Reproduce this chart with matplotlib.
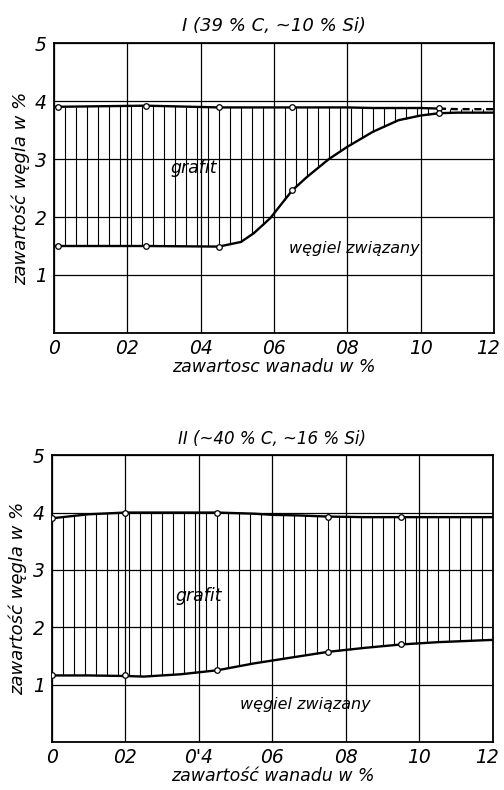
import numpy as np
import matplotlib
matplotlib.use('Agg')
import matplotlib.pyplot as plt
from matplotlib.transforms import ScaledTranslation

plt.rcParams['font.family'] = ['DejaVu Sans']
plt.rcParams['font.style'] = 'italic'

# Chart I: measured points and traced curves
x_pts_1 = [0.01, 0.25, 0.45, 0.65, 1.05]
graf_pts_1 = [3.90, 3.92, 3.89, 3.89, 3.88]
zw_pts_1 = [1.50, 1.50, 1.49, 2.46, 3.79]

curve_x_1 = [0.0, 0.25, 0.45, 0.51, 0.545, 0.59, 0.625, 0.65, 0.69, 0.75, 0.80, 0.87, 0.94, 1.0, 1.05, 1.1, 1.2]
upper_1 = [3.90, 3.92, 3.89, 3.89, 3.89, 3.89, 3.89, 3.89, 3.89, 3.89, 3.89, 3.88, 3.88, 3.88, 3.87, 3.86, 3.86]
lower_1 = [1.50, 1.50, 1.49, 1.57, 1.72, 1.98, 2.26, 2.46, 2.69, 3.00, 3.21, 3.47, 3.67, 3.75, 3.79, 3.80, 3.80]

# Chart II
x_pts_2 = [0.0, 0.2, 0.45, 0.75, 0.95]
graf_pts_2 = [3.90, 4.00, 4.00, 3.92, 3.92]
zw_pts_2 = [1.16, 1.16, 1.25, 1.57, 1.70]

curve_x_2 = [0.0, 0.1, 0.2, 0.25, 0.35, 0.45, 0.5, 0.55, 0.6, 0.67, 0.75, 0.85, 0.95, 1.05, 1.2]
upper_2 = [3.90, 3.97, 4.00, 4.00, 4.00, 4.00, 3.99, 3.98, 3.96, 3.95, 3.93, 3.92, 3.92, 3.92, 3.92]
lower_2 = [1.16, 1.16, 1.15, 1.14, 1.18, 1.25, 1.31, 1.37, 1.42, 1.49, 1.57, 1.64, 1.70, 1.74, 1.78]

x_ticks = [0, 0.2, 0.4, 0.6, 0.8, 1.0, 1.2]
x_labels_1 = ['0', '02', '04', '06', '08', '10', '12']
x_labels_2 = ['0', '02', "0'4", '06', '08', '10', '12']
y_ticks = [1, 2, 3, 4, 5]

fig = plt.figure(figsize=(5.04, 7.90), dpi=100)
ax1 = fig.add_axes([0.107, 0.5785, 0.873, 0.367])
ax2 = fig.add_axes([0.103, 0.0608, 0.875, 0.363])


def draw_panel(ax, cx, up, lo, xp, gp, zp, xlabels, dashed_from=None):
    ax.set_xlim(0, 1.2)
    ax.set_ylim(0, 5)
    ax.set_xticks(x_ticks)
    ax.set_xticklabels(xlabels)
    ax.set_yticks(y_ticks)
    ax.tick_params(length=0, labelsize=13.5)
    ax.tick_params(axis='x', pad=4)
    ax.tick_params(axis='y', pad=5)
    # keep the last x label inside the figure
    last = ax.get_xticklabels()[-1]
    last.set_transform(last.get_transform() + ScaledTranslation(-4 / 72, 0, fig.dpi_scale_trans))
    ax.grid(True, color='black', linewidth=0.9)
    ax.set_axisbelow(True)
    for s in ax.spines.values():
        s.set_linewidth(1.3)

    # vertical hatching between the two curves
    hx = np.arange(0.03, 1.2, 0.03)
    ax.vlines(hx, np.interp(hx, cx, lo), np.interp(hx, cx, up), color='black', linewidth=0.8)

    cx = np.array(cx)
    up = np.array(up)
    if dashed_from is None:
        ax.plot(cx, up, color='black', linewidth=1.7)
    else:
        m = cx <= dashed_from
        ax.plot(cx[m], up[m], color='black', linewidth=1.7)
        ax.plot(cx[cx >= dashed_from], up[cx >= dashed_from], color='black',
                linewidth=1.7, linestyle=(0, (3, 2)))
    ax.plot(cx, lo, color='black', linewidth=1.7)

    ax.plot(xp, gp, 'o', ms=4, mfc='white', mec='black', mew=0.9, zorder=5)
    ax.plot(xp, zp, 'o', ms=4, mfc='white', mec='black', mew=0.9, zorder=5)


draw_panel(ax1, curve_x_1, upper_1, lower_1, x_pts_1, graf_pts_1, zw_pts_1, x_labels_1, dashed_from=1.05)
ax1.set_title('I (39 % C, ~10 % Si)', fontsize=13, pad=9)
ax1.set_xlabel('zawartosc wanadu w %', fontsize=12.5, labelpad=0)
ax1.set_ylabel('zawartość węgla w %', fontsize=13, labelpad=4)
ax1.text(0.38, 2.85, 'grafit', fontsize=12.5, ha='center', va='center')
ax1.text(0.82, 1.45, 'węgiel związany', fontsize=11.5, ha='center', va='center')

draw_panel(ax2, curve_x_2, upper_2, lower_2, x_pts_2, graf_pts_2, zw_pts_2, x_labels_2)
ax2.set_title('II (~40 % C, ~16 % Si)', fontsize=12, pad=8)
ax2.set_xlabel('zawartość wanadu w %', fontsize=12.5, labelpad=0)
ax2.set_ylabel('zawartość węgla w %', fontsize=13, labelpad=4)
ax2.text(0.40, 2.55, 'grafit', fontsize=12.5, ha='center', va='center')
ax2.text(0.69, 0.65, 'węgiel związany', fontsize=11.5, ha='center', va='center')

fig.savefig('out.png', dpi=100)
